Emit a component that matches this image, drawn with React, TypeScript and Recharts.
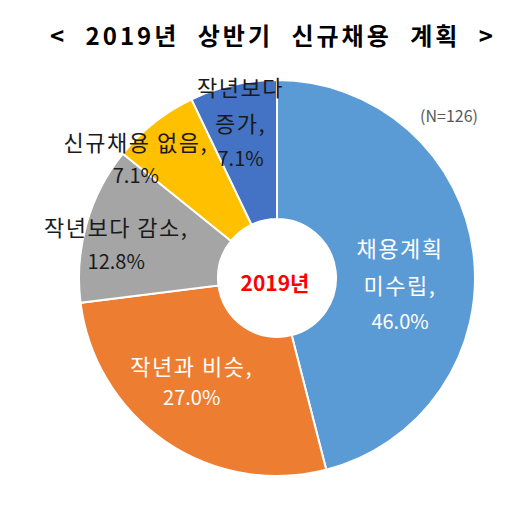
import { Pie, PieChart, Cell } from "recharts"

const categories = ["채용계획 미수립", "작년과 비슷", "작년보다 감소", "신규채용 없음", "작년보다 증가"]
const shares = [46.0, 27.0, 12.8, 7.1, 7.1]
// label text lines per slice, as printed on the chart
const labelLines = [
  ["채용계획", "미수립,", "46.0%"],
  ["작년과 비슷,", "27.0%"],
  ["작년보다 감소,", "12.8%"],
  ["신규채용 없음,", "7.1%"],
  ["작년보다", "증가,", "7.1%"],
]
const title = "< 2019년 상반기 신규채용 계획 >"
const centerText = "2019년"
const sampleNote = "(N=126)"

const colors = ["#5B9BD5", "#ED7D31", "#A5A5A5", "#FFC000", "#4472C4"]
const labelColors = ["#ffffff", "#ffffff", "#1a1a1a", "#1a1a1a", "#1a1a1a"]
// radius from centre + nudge + line gap, per slice
const labelLayout = [
  { r: 123, dx: 1, dy: 21, gap: 37 },
  { r: 134, dx: -10, dy: -8, gap: 32 },
  { r: 164, dx: -3, dy: 10, gap: 34 },
  { r: 184, dx: -27, dy: 24, gap: 34 },
  { r: 160, dx: -1, dy: 0, gap: 36 },
]

const data = categories.map((name, i) => ({ name, value: shares[i] }))

const FONT = "'Noto Sans CJK KR', 'Noto Sans', sans-serif"
const RAD = Math.PI / 180
const CX = 277
const CY = 278
const hasHangul = (s: string) => /[가-힣]/.test(s)

function renderLabel(props: any) {
  const { cx, cy, midAngle, index } = props
  const lay = labelLayout[index]
  const x = cx + lay.r * Math.cos(-midAngle * RAD) + lay.dx
  const y = cy + lay.r * Math.sin(-midAngle * RAD) + lay.dy
  const lines = labelLines[index]
  const start = -((lines.length - 1) * lay.gap) / 2
  return (
    <g key={`lbl-${index}`}>
      {lines.map((t, j) => (
        <text
          key={j}
          x={x}
          y={y + start + j * lay.gap}
          textAnchor="middle"
          dominantBaseline="central"
          fill={labelColors[index]}
          fontSize={hasHangul(t) ? 22 : 20}
          letterSpacing={hasHangul(t) ? 1.5 : 0}
          fontFamily={FONT}
        >
          {t}
        </text>
      ))}
    </g>
  )
}

export default function App() {
  return (
    <div style={{ position: "absolute", left: 0, top: 0, width: 528, height: 510, background: "#fff" }}>
      <div style={{ position: "absolute", left: 0, top: 0 }}>
        <PieChart width={528} height={510} margin={{ top: 0, right: 0, bottom: 0, left: 0 }}>
          <Pie
            data={data}
            dataKey="value"
            nameKey="name"
            cx={CX}
            cy={CY}
            innerRadius={59}
            outerRadius={198}
            startAngle={90}
            endAngle={-270}
            stroke="#ffffff"
            strokeWidth={2}
            label={renderLabel}
            labelLine={false}
            isAnimationActive={false}
          >
            {data.map((d, i) => (
              <Cell key={d.name} fill={colors[i]} />
            ))}
          </Pie>
        </PieChart>
      </div>
      <svg width={528} height={510} style={{ position: "absolute", left: 0, top: 0, pointerEvents: "none" }}>
        <text
          x={273}
          y={34}
          textAnchor="middle"
          dominantBaseline="central"
          fontSize={24}
          fontWeight="bold"
          fontFamily={FONT}
          fill="#000"
          letterSpacing={3}
          wordSpacing={10}
        >
          {title}
        </text>
        <text
          x={CX - 2}
          y={CY + 4}
          textAnchor="middle"
          dominantBaseline="central"
          fontSize={21}
          fontWeight="bold"
          fontFamily={FONT}
          fill="#FF0000"
        >
          {centerText}
        </text>
        <text
          x={449}
          y={115}
          textAnchor="middle"
          dominantBaseline="central"
          fontSize={16}
          fontFamily={FONT}
          fill="#595959"
        >
          {sampleNote}
        </text>
      </svg>
    </div>
  )
}
